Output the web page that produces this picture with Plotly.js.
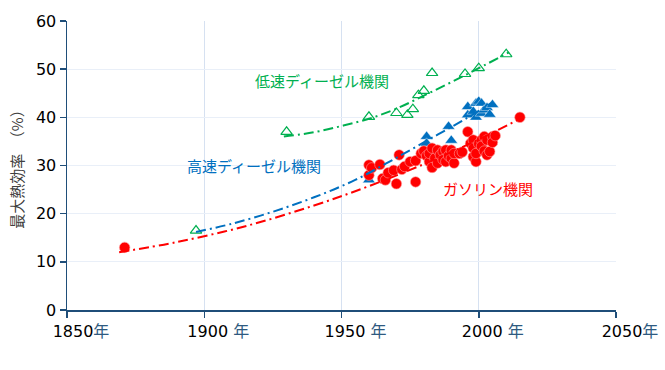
<!DOCTYPE html>
<html>
<head>
<meta charset="utf-8">
<script src="https://cdn.plot.ly/plotly-3.0.1.min.js"></script>
<style>html,body{margin:0;padding:0;background:#fff;}</style>
</head>
<body>
<div id="chart" style="width:665px;height:370px;"></div>
<script>
// Gasoline engines
const gasYears = [1871,1960,1960,1961,1964,1965,1966,1967,1969,1970,1971,1972,1973,1975,1977,1977,1979,1980,1981,1982,1982,1983,1983,1984,1985,1985,1986,1987,1987,1988,1988,1989,1990,1990,1991,1991,1993,1994,1996,1997,1998,1998,1998,1999,1999,2000,2001,2001,2002,2002,2003,2003,2004,2005,2005,2006,2015];
const gasVals  = [13.0,30.1,28.0,29.5,30.2,27.3,27.0,28.5,29.0,26.2,32.2,29.2,29.8,30.8,31.0,26.6,32.5,33.0,32.0,30.8,32.5,29.6,33.6,31.5,33.2,30.5,32.2,32.9,31.2,33.2,30.8,32.0,33.2,31.5,30.5,32.5,32.5,32.8,37.0,34.6,35.3,33.6,31.8,30.8,32.5,34.5,35.3,34.0,36.0,33.0,32.2,35.3,32.9,36.0,34.8,36.2,40.0];
// High-speed diesel engines
const hsYears = [1960,1981,1981,1989,1990,1996,1996,1998,1999,1999,2000,2001,2001,2002,2003,2004,2005];
const hsVals  = [27.0,36.0,34.6,38.1,35.2,42.2,40.5,41.2,42.9,40.0,43.3,40.8,42.9,41.5,42.0,40.6,42.6];
// Low-speed diesel engines
const lsYears = [1897,1930,1960,1970,1974,1976,1978,1980,1983,1995,2000,2010];
const lsVals  = [16.5,37.0,40.1,40.9,40.5,41.7,44.6,45.5,49.2,49.0,50.2,53.1];
// Trend lines
const gasTrendYears = [1869,1890,1915,1940,1959,1978,2000,2014];
const gasTrendVals  = [12.0,14.1,17.4,21.7,25.5,29.8,35.4,39.4];
const hsTrendYears = [1897,1910,1925,1940,1955,1970,1985,1995,2005];
const hsTrendVals  = [16.2,17.9,20.4,23.4,27.0,31.6,36.4,39.6,43.1];
const lsTrendYears = [1929,1940,1950,1960,1970,1980,1990,2000,2011];
const lsTrendVals  = [36.0,36.9,38.2,39.7,41.8,44.5,47.3,50.2,53.5];
// Axis ticks
const xTickVals = [1850,1900,1950,2000,2050];
const xTickNums = ['1850','1900 ','1950 ','2000 ','2050'];
const yTickVals = [0,10,20,30,40,50,60];

const GREEN='#00B050', BLUE='#0070C0', RED='#FF0000', AXIS='#1F4E79';
const dashPat = '10px,4px,2px,4px';

const traces = [
  {x: lsYears, y: lsVals, mode:'markers', type:'scatter', cliponaxis:false,
   marker:{symbol:'triangle-up-open', size:10, color:GREEN, line:{width:1.2, color:GREEN}}},
  {x: hsYears, y: hsVals, mode:'markers', type:'scatter', cliponaxis:false,
   marker:{symbol:'triangle-up', size:11, color:BLUE, line:{width:0.6, color:'rgba(255,255,255,0.7)'}}},
  {x: gasYears, y: gasVals, mode:'markers', type:'scatter', cliponaxis:false,
   marker:{symbol:'circle', size:10.5, color:RED, line:{width:0.6, color:'#ff9a9a'}}},
  {x: lsTrendYears, y: lsTrendVals, mode:'lines', type:'scatter',
   line:{color:GREEN, width:2, dash:dashPat, shape:'spline'}},
  {x: hsTrendYears, y: hsTrendVals, mode:'lines', type:'scatter',
   line:{color:BLUE, width:2, dash:dashPat, shape:'spline'}},
  {x: gasTrendYears, y: gasTrendVals, mode:'lines', type:'scatter',
   line:{color:RED, width:2, dash:dashPat, shape:'spline'}}
];

const layout = {
  width:665, height:370,
  margin:{l:67, r:49, t:21, b:60},
  paper_bgcolor:'#fff', plot_bgcolor:'#fff',
  showlegend:false,
  font:{family:'DejaVu Sans, "Noto Sans CJK JP", sans-serif', color:'#000'},
  xaxis:{
    range:[1850,2050], tickmode:'array', tickvals:xTickVals,
    ticktext: xTickNums.map(t => t + '<span style="color:#2E5A80">年</span>'),
    showgrid:true, gridcolor:'#D6E1F1', gridwidth:1, zeroline:false,
    showline:true, linecolor:AXIS, linewidth:1.5,
    ticks:'outside', ticklen:6, tickwidth:1.5, tickcolor:AXIS,
    tickfont:{size:16, color:'#000', family:'DejaVu Sans, "Noto Sans CJK JP", sans-serif'},
    ticklabelshift:14, fixedrange:true
  },
  yaxis:{
    range:[0,60], tickmode:'array', tickvals:yTickVals,
    showgrid:true, gridcolor:'#E9EFF8', gridwidth:1, zeroline:false,
    showline:true, linecolor:AXIS, linewidth:1.5,
    ticks:'outside', ticklen:6, tickwidth:1.5, tickcolor:AXIS,
    tickfont:{size:16, color:'#000'},
    title:{text:'最大熱効率　（%）', font:{size:15, color:'#404040', family:'"Noto Sans CJK JP", sans-serif'}, standoff:8},
    fixedrange:true
  },
  annotations:[
    {x:1943, y:47.7, xref:'x', yref:'y', text:'低速ディーゼル機関', showarrow:false,
     font:{size:15, color:GREEN, family:'"Noto Sans CJK JP", sans-serif'}},
    {x:1918, y:29.9, xref:'x', yref:'y', text:'高速ディーゼル機関', showarrow:false,
     font:{size:15, color:BLUE, family:'"Noto Sans CJK JP", sans-serif'}},
    {x:2003.4, y:25.3, xref:'x', yref:'y', text:'ガソリン機関', showarrow:false,
     font:{size:15, color:RED, family:'"Noto Sans CJK JP", sans-serif'}}
  ]
};

Plotly.newPlot('chart', traces, layout, {displayModeBar:false, staticPlot:true});
</script>
</body>
</html>
